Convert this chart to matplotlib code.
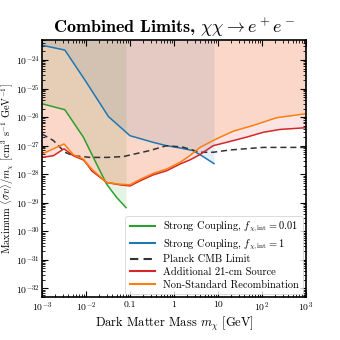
import numpy as np
import matplotlib
matplotlib.use("Agg")
import matplotlib.pyplot as plt
from matplotlib.ticker import FixedLocator, FixedFormatter, LogLocator, NullFormatter

plt.rcParams['font.family'] = 'serif'
plt.rcParams['font.serif'] = ['cmr10', 'DejaVu Serif']
plt.rcParams['mathtext.fontset'] = 'cm'
plt.rcParams['axes.unicode_minus'] = False

# Data (log10 values)
green_logm = [-3.0, -2.48, -2.06, -1.76, -1.53, -1.30, -1.09]
green_logy = [-25.53, -25.74, -26.70, -27.64, -28.35, -28.82, -29.17]

blue_logm = [-3.0, -2.48, -2.02, -1.49, -1.0, -0.48, -0.17, 0.14, 0.43, 0.66, 0.91]
blue_logy = [-23.48, -23.65, -24.71, -25.98, -26.65, -26.88, -27.00, -27.08, -27.17, -27.38, -27.63]

planck_logm = [-3.0, -2.74, -2.48, -2.29, -1.91, -1.50, -1.15, -0.55, -0.17, 0.2, 0.59, 0.89, 1.27, 2.02, 3.0]
planck_logy = [-26.59, -26.82, -27.23, -27.35, -27.41, -27.41, -27.38, -27.17, -27.00, -27.05, -27.23, -27.23, -27.15, -27.06, -27.06]

red_logm = [-3.0, -2.74, -2.50, -2.29, -2.06, -1.98, -1.87, -1.68, -1.53, -1.23, -1.0, -0.77, -0.47, -0.17, 0.14, 0.36, 0.59, 0.89, 1.2, 1.65, 2.03, 2.41, 3.0]
red_logy = [-27.41, -27.35, -27.11, -27.35, -27.50, -27.64, -27.88, -28.11, -28.29, -28.37, -28.41, -28.23, -28.02, -27.88, -27.64, -27.50, -27.31, -27.00, -26.88, -26.70, -26.53, -26.43, -26.37]

orange_logm = [-3.0, -2.74, -2.50, -2.29, -2.06, -1.87, -1.53, -1.23, -1.0, -0.77, -0.47, -0.17, 0.14, 0.36, 0.59, 0.89, 1.05, 1.35, 1.8, 2.33, 3.0]
orange_logy = [-27.29, -27.11, -26.94, -27.31, -27.47, -27.82, -28.29, -28.35, -28.37, -28.18, -27.97, -27.82, -27.58, -27.35, -27.06, -26.82, -26.70, -26.49, -26.29, -26.02, -25.88]

xticks = [1e-3, 1e-2, 0.1, 1, 10, 1e2, 1e3]
xticklabels = [r'$10^{-3}$', r'$10^{-2}$', '0.1', '1', '10', r'$10^{2}$', r'$10^{3}$']
yticks = [10.0**k for k in range(-32, -23)]
yticklabels = [r'$10^{%d}$' % k for k in range(-32, -23)]

YMIN, YMAX = 5e-33, 5e-24

def p(lm, ly):
    return 10.0**np.array(lm), 10.0**np.array(ly)

fig = plt.figure(figsize=(3.4, 3.4), dpi=100)
ax = fig.add_axes([0.1235, 0.1265, 0.9 - 0.1235, 0.882 - 0.1265])

gx, gy = p(green_logm, green_logy)
bx, by = p(blue_logm, blue_logy)
px_, py_ = p(planck_logm, planck_logy)
rx, ry = p(red_logm, red_logy)
ox, oy = p(orange_logm, orange_logy)

ax.fill_between(gx, gy, YMAX, color='#2ca02c', alpha=0.12, lw=0)
ax.fill_between(bx, by, YMAX, color='#1f77b4', alpha=0.12, lw=0)
ax.fill_between(rx, ry, YMAX, color='#d62728', alpha=0.12, lw=0)
ax.fill_between(ox, oy, YMAX, color='#ff7f0e', alpha=0.12, lw=0)

ax.plot(gx, gy, color='#2ca02c', lw=1.1, label=r'Strong Coupling, $f_{\chi,\mathrm{int}} = 0.01$')
ax.plot(bx, by, color='#1f77b4', lw=1.1, label=r'Strong Coupling, $f_{\chi,\mathrm{int}} = 1$')
ax.plot(px_, py_, color='#333333', lw=1.1, ls='--', dashes=(4, 2.5), label='Planck CMB Limit')
ax.plot(rx, ry, color='#d62728', lw=1.1, label='Additional 21-cm Source')
ax.plot(ox, oy, color='#ff7f0e', lw=1.1, label='Non-Standard Recombination')

ax.set_xscale('log')
ax.set_yscale('log')
ax.set_xlim(1e-3, 1e3)
ax.set_ylim(YMIN, YMAX)

ax.xaxis.set_major_locator(FixedLocator(xticks))
ax.xaxis.set_major_formatter(FixedFormatter(xticklabels))
ax.xaxis.set_minor_locator(LogLocator(base=10, subs=np.arange(2, 10), numticks=20))
ax.xaxis.set_minor_formatter(NullFormatter())
ax.yaxis.set_major_locator(FixedLocator(yticks))
ax.yaxis.set_major_formatter(FixedFormatter(yticklabels))
ax.yaxis.set_minor_locator(LogLocator(base=10, subs=np.arange(2, 10), numticks=20))
ax.yaxis.set_minor_formatter(NullFormatter())

ax.tick_params(which='both', direction='in', top=True, right=True, labelsize=7)
ax.tick_params(which='major', length=4, width=0.8, pad=2.5)
ax.tick_params(axis='y', which='major', pad=1.5)
ax.tick_params(which='minor', length=2, width=0.6)
for s in ax.spines.values():
    s.set_linewidth(1.2)

ax.set_xlabel(r'Dark Matter Mass $m_\chi$ [GeV]', fontsize=9, labelpad=1)
ax.set_ylabel(r'Maximum $\langle \sigma v \rangle / m_\chi$ [cm$^3$ s$^{-1}$ GeV$^{-1}$]', fontsize=7.5)
ax.yaxis.set_label_coords(-0.098, 0.5)
ax.set_title(r'Combined Limits, $\chi\chi \rightarrow e^+e^-$', fontsize=13, family='cmb10', pad=5)

leg = ax.legend(loc='lower right', fontsize=7.5, frameon=True, handlelength=2.4, borderpad=0.4,
                labelspacing=0.3, handletextpad=0.8, borderaxespad=0.3)
leg.get_frame().set_linewidth(0.6)
for h in leg.get_lines():
    h.set_linewidth(1.5)

fig.savefig('out.png', dpi=100)
